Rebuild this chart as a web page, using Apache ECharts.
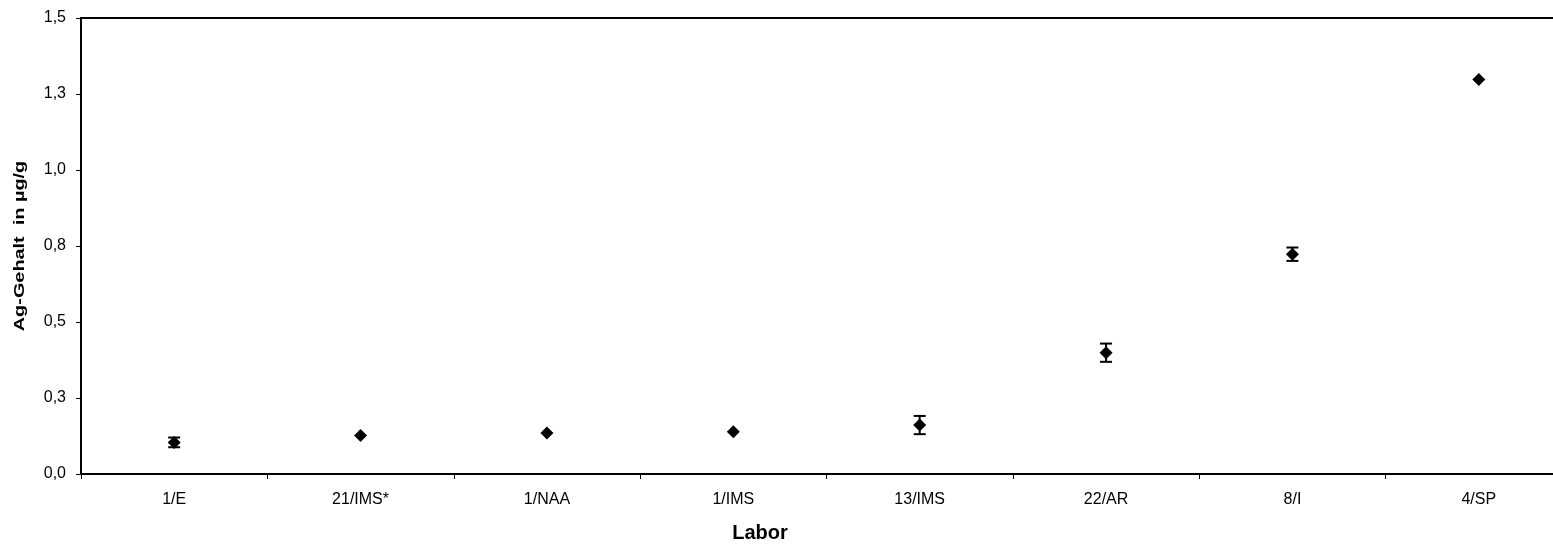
<!DOCTYPE html>
<html>
<head>
<meta charset="utf-8">
<title>Ag-Gehalt je Labor</title>
<script src="https://cdn.jsdelivr.net/npm/echarts@6/dist/echarts.min.js"></script>
<style>
  html, body { margin: 0; padding: 0; background: #fff; }
  #chart { width: 1553px; height: 544px; }
</style>
</head>
<body>
<div id="chart"></div>
<script>
// Labs / methods along the x axis
const labs = ['1/E', '21/IMS*', '1/NAA', '1/IMS', '13/IMS', '22/AR', '8/I', '4/SP'];
// Mean Ag content in µg/g
const agMean = [0.104, 0.127, 0.135, 0.139, 0.161, 0.399, 0.723, 1.298];
// Standard deviation (half length of the error bar)
const agSd = [0.016, 0.0, 0.0, 0.0, 0.030, 0.030, 0.022, 0.0];

const FONT = 'Liberation Sans, Arial, sans-serif';

const chart = echarts.init(document.getElementById('chart'), null, { renderer: 'canvas' });

const errData = labs.map((l, i) => [i, agMean[i] - agSd[i], agMean[i] + agSd[i]]);

chart.setOption({
  animation: false,
  backgroundColor: '#ffffff',
  textStyle: { fontFamily: FONT },
  grid: {
    left: 81, top: 18, width: 1491, height: 456,
    outerBoundsMode: 'none',
    containLabel: false,
    show: true, borderColor: '#000', borderWidth: 2, backgroundColor: 'transparent'
  },
  xAxis: {
    type: 'category',
    data: labs,
    boundaryGap: true,
    axisLine: { show: true, lineStyle: { color: '#000', width: 2 } },
    axisTick: { show: true, length: 5, lineStyle: { color: '#000', width: 1 } },
    axisLabel: { color: '#000', fontSize: 16, fontFamily: FONT, margin: 18 },
    splitLine: { show: false }
  },
  yAxis: {
    type: 'value',
    min: 0, max: 1.5, interval: 0.25,
    axisLine: { show: true, lineStyle: { color: '#000', width: 2 } },
    axisTick: { show: true, length: 5, lineStyle: { color: '#000', width: 1 } },
    axisLabel: {
      color: '#000', fontSize: 16, fontFamily: FONT, margin: 15,
      formatter: v => v.toFixed(1).replace('.', ',')
    },
    splitLine: { show: false }
  },
  graphic: [
    {
      // y axis title, set vertically
      type: 'text',
      x: 20, y: 246,
      rotation: Math.PI / 2,
      scaleX: 1.42,
      style: {
        text: 'Ag-Gehalt  in µg/g', fill: '#000',
        font: 'bold 14px ' + FONT, textAlign: 'center', textVerticalAlign: 'middle'
      }
    },
    {
      // x axis title
      type: 'text',
      x: 760, y: 533,
      style: {
        text: 'Labor', fill: '#000',
        font: 'bold 20px ' + FONT, textAlign: 'center', textVerticalAlign: 'middle'
      }
    }
  ],
  series: [
    {
      name: 'Fehler',
      type: 'custom',
      data: errData,
      z: 3,
      renderItem: function (params, api) {
        const x = api.value(0);
        const lo = api.coord([x, api.value(1)]);
        const hi = api.coord([x, api.value(2)]);
        if (Math.abs(hi[1] - lo[1]) < 1) return null;
        const cap = 6;
        const style = { stroke: '#000', lineWidth: 2, fill: null };
        return {
          type: 'group',
          children: [
            { type: 'line', shape: { x1: lo[0], y1: lo[1], x2: hi[0], y2: hi[1] }, style },
            { type: 'line', shape: { x1: hi[0] - cap, y1: hi[1], x2: hi[0] + cap, y2: hi[1] }, style },
            { type: 'line', shape: { x1: lo[0] - cap, y1: lo[1], x2: lo[0] + cap, y2: lo[1] }, style }
          ]
        };
      }
    },
    {
      name: 'Ag-Gehalt',
      type: 'scatter',
      data: agMean,
      symbol: 'diamond',
      symbolSize: [13, 13],
      itemStyle: { color: '#000', opacity: 1 },
      z: 4
    }
  ]
});
</script>
</body>
</html>
